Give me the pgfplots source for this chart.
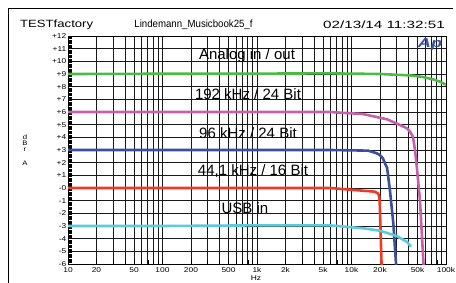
\documentclass[border=0pt]{standalone}
\usepackage{pgfplots}
\pgfplotsset{compat=1.18}
\usepackage{fontspec}
\setmainfont{Liberation Sans}
\usepackage{graphicx}

\definecolor{cgreen}{HTML}{4CBA45}
\definecolor{cmag}{HTML}{C660AC}
\definecolor{cblue}{HTML}{3A4E9E}
\definecolor{cred}{HTML}{F03A26}
\definecolor{ccyan}{HTML}{5CC9DD}
\definecolor{aplogo}{HTML}{3B52A3}

\newcommand\W[1]{\scalebox{1.2}[1]{#1}}

\begin{document}
\begin{tikzpicture}
\begin{axis}[
 at={(68pt,18pt)}, anchor=south west, scale only axis, width=378pt, height=228pt,
 xmode=log, log basis x=10, xmin=10, xmax=100000, ymin=-6, ymax=12,
 xtick={10,20,50,100,200,500,1000,2000,5000,10000,20000,50000,100000},
 xticklabels={\W{10},\W{20},\W{50},\W{100},\W{200},\W{500},\W{1k},\W{2k},\W{5k},\W{10k},\W{20k},\W{50k},\W{100k}},
 minor xtick={30,40,60,70,80,90,300,400,600,700,800,900,3000,4000,6000,7000,8000,9000,30000,40000,60000,70000,80000,90000},
 ytick={-6,...,12},
 yticklabels={\W{-6},\W{-5},\W{-4},\W{-3},\W{-2},\W{-1},\W{-0},\W{+1},\W{+2},\W{+3},\W{+4},\W{+5},\W{+6},\W{+7},\W{+8},\W{+9},\W{+10},\W{+11},\W{+12}},
 minor y tick num=9,
 xmajorgrids, xminorgrids, ymajorgrids,
 grid style={black!90, line width=0.75pt},
 minor grid style={black!90, line width=0.75pt},
 axis line style={black, line width=0.8pt},
 tick align=inside,
 ytick pos=left, xtick pos=bottom,
 major tick length=5pt, minor tick length=4pt,
 every tick/.style={black, line width=0.5pt},
 tick label style={font=\fontsize{7}{8}\selectfont},
 yticklabel style={inner sep=1.5pt},
 xticklabel style={inner sep=1pt, yshift=-2.5pt},
 /pgf/number format/assume math mode=true,
]
\addplot[cgreen, line width=2.6pt, line join=round] coordinates {
(10,9.0) (100,9.02) (1000,9.03) (5900,9.05) (20000,9.0) (41600,8.89) (57200,8.76) (72800,8.58) (86000,8.4) (100000,8.15)};
\addplot[cmag, line width=2.6pt, line join=round] coordinates {
(10,6.0) (100,6.0) (1000,6.0) (5900,6.0) (13200,5.84) (23800,5.42) (32000,5.0) (38700,4.71) (42000,4.4) (44700,4.05) (47000,3.0) (49500,1.4) (53000,-0.94) (57500,-5.7) (58500,-6.5)};
\addplot[cblue, line width=2.6pt, line join=round] coordinates {
(10,3.0) (100,3.0) (1000,3.0) (5900,3.0) (15000,2.95) (18500,2.74) (20000,2.6) (21500,2.34) (22600,1.95) (23800,1.6) (25500,-0.16) (27700,-2.78) (29400,-5.68) (30000,-6.5)};
\addplot[cred, line width=2.6pt, line join=round] coordinates {
(10,0.0) (100,0.0) (1000,0.0) (5900,0.0) (17700,-0.29) (19200,-0.45) (19700,-0.7) (19900,-1.2) (20900,-6.5)};
\addplot[ccyan, line width=2.6pt, line join=round, line cap=round] coordinates {
(10,-3.0) (100,-3.0) (1000,-2.95) (5900,-2.95) (13300,-3.18) (20000,-3.37) (30000,-3.79) (38400,-4.24) (42300,-4.58)};
\end{axis}
% frame
\draw[black, line width=0.8pt] (8pt,-5pt) -- (8pt,274pt) -- (453pt,274pt);
% header
\node[anchor=west, inner sep=0] at (20pt,257pt) {\scalebox{1.25}[1]{\fontsize{10.5}{12}\selectfont TESTfactory}};
\node[inner sep=0] at (193.5pt,257pt) {\scalebox{0.92}[1]{\fontsize{10.5}{12}\selectfont Lindemann\_Musicbook25\_f}};
\node[anchor=east, inner sep=0] at (445pt,257pt) {\scalebox{1.45}[1]{\fontsize{10.5}{12}\selectfont 02/13/14 11:32:51}};
% logo
\node[inner sep=0] at (430pt,238pt) {\scalebox{1.4}[1]{\fontsize{13}{14}\selectfont\bfseries\itshape\color{aplogo}Ap}};
% inner labels
\begin{scope}[every node/.style={inner sep=0, font=\fontsize{15}{17}\selectfont}]
\node at (247pt,226pt) {Analog in / out};
\node at (248pt,188pt) {192 kHz / 24 Bit};
\node at (248pt,149pt) {96 kHz / 24 Bit};
\node at (253pt,111pt) {44,1 kHz / 16 Bit};
\node at (245pt,74pt) {USB in};
\end{scope}
% y label
\begin{scope}[every node/.style={inner sep=0, font=\fontsize{6.5}{7}\selectfont}]
\node at (25pt,145pt) {\W{d}};
\node at (25pt,138.5pt) {\W{B}};
\node at (25pt,132pt) {\W{r}};
\node at (25pt,119pt) {\W{A}};
\end{scope}
\node[inner sep=0, font=\fontsize{7}{8}\selectfont] at (256pt,4pt) {\W{Hz}};
\pgfresetboundingbox
\useasboundingbox (0,0) rectangle (456pt,282pt);
\end{tikzpicture}
\end{document}
